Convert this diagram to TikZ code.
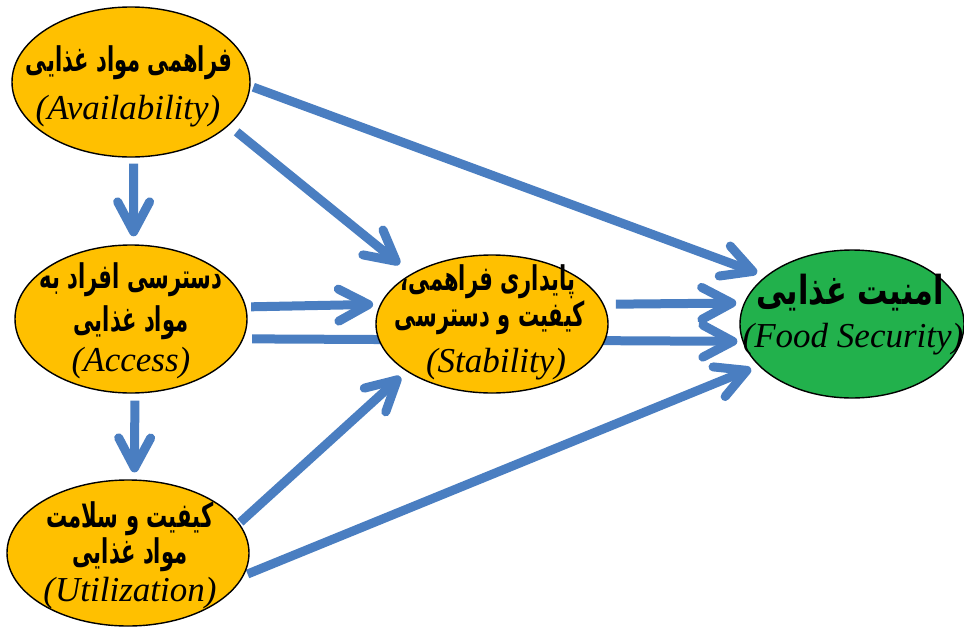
\documentclass[tikz,border=0pt]{standalone}
\usepackage{fontspec}
\setmainfont{Liberation Serif}
\newfontfamily\farsi[Script=Arabic,FakeStretch=0.62]{DejaVu Sans Bold}
\newfontfamily\farsiwide[Script=Arabic,FakeStretch=0.76]{DejaVu Sans Bold}
\TeXXeTstate=1
\usetikzlibrary{shapes.geometric,arrows.meta,backgrounds}
\definecolor{yfill}{HTML}{FFC000}
\definecolor{gfill}{HTML}{22B14C}
\definecolor{ablue}{HTML}{4A7EC1}
\newcommand{\fa}[1]{{\farsi\fontsize{34}{38}\selectfont\beginR #1\endR}}
\newcommand{\fabig}[1]{{\farsiwide\fontsize{40}{44}\selectfont\beginR #1\endR}}
\newcommand{\la}[1]{{\itshape\fontsize{35}{40}\selectfont #1}}
\tikzset{
  ell/.style={ellipse, draw=black, line width=1.4pt, inner sep=0pt},
  yell/.style={ell, fill=yfill},
  gell/.style={ell, fill=gfill},
  txt/.style={anchor=base, inner sep=0pt},
  arr/.style={draw=ablue, line width=9pt, -{Straight Barb[length=30pt,width=32pt,round]}}
}
\begin{document}
\begin{tikzpicture}[x=1pt,y=-1pt]
\useasboundingbox (0,0) rectangle (964,627);
% ellipses
\node[yell, minimum width=238pt, minimum height=150pt] (avail) at (131,82) {};
\node[yell, minimum width=232pt, minimum height=148pt] (access) at (131,319) {};
\node[yell, minimum width=242pt, minimum height=146pt] (util) at (128,553) {};
\node[yell, minimum width=232pt, minimum height=138pt] (stab) at (492,324) {};
\node[gell, minimum width=224pt, minimum height=148pt] (food) at (852,324) {};
% texts
\node[txt] (availA) at (129,71) {\fa{فراهمی مواد غذایی}};
\node[txt] (availB) at (128,119) {\la{(Availability)}};
\node[txt] (accessA) at (131,288) {\fa{دسترسی افراد به}};
\node[txt] (accessB) at (131,331) {\fa{مواد غذایی}};
\node[txt] (accessC) at (131,371) {\la{(Access)}};
\node[txt] (utilA) at (130,527) {\fa{کیفیت و سلامت}};
\node[txt] (utilB) at (130,563) {\fa{مواد غذایی}};
\node[txt] (utilC) at (130,601) {\la{(Utilization)}};
\node[txt] (stabA) at (488,290) {\fa{پایداری فراهمی،}};
\node[txt] (stabB) at (490,326) {\fa{کیفیت و دسترسی}};
\node[txt] (stabC) at (496,372) {\la{(Stability)}};
\node[txt] (foodA) at (850,304) {\fabig{امنیت غذایی}};
\node[txt] (foodB) at (853,347) {\la{(Food Security)}};
% connectors
\begin{scope}[on background layer]
\fill[white] (0,0) rectangle (964,627);
\draw[arr, shorten <=3pt, shorten >=9pt] (avail.-2.8) -- (food.151.8);
\draw[arr, shorten <=10pt, shorten >=15pt] (avail.-24.6) -- (stab.148.8);
\draw[arr, shorten <=5pt, shorten >=7pt] (access.6.7) -- (stab.170.9);
\draw[arr, shorten <=8.6pt, shorten >=5pt] (access.-10.9) -- (food.189);
\draw[arr, shorten <=12pt, shorten >=7.6pt] (stab.10.1) -- (food.169.2);
\draw[arr, shorten <=1.5pt, shorten >=8pt] (util.15) -- (stab.209);
\draw[arr, shorten <=4pt, shorten >=8pt] (util.-11.4) -- (food.204.9);
\draw[arr, shorten <=6pt, shorten >=8pt] (avail.-88.6) -- (access.88.6);
\draw[arr, shorten <=7pt, shorten >=7pt] (access.-87) -- (util.85);
\end{scope}
\end{tikzpicture}
\end{document}
